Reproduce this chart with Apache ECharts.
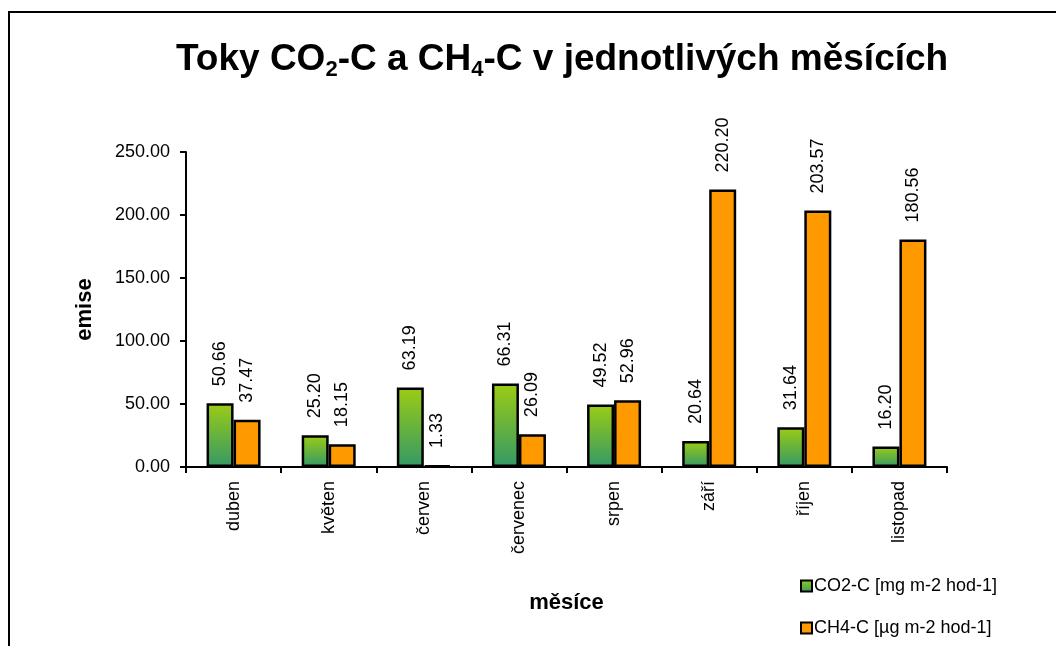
<!DOCTYPE html>
<html>
<head>
<meta charset="utf-8">
<script src="https://cdn.jsdelivr.net/npm/echarts@6/dist/echarts.min.js"></script>
<style>
  html, body { margin: 0; padding: 0; background: #fff; }
  #chart { width: 1056px; height: 646px; }
</style>
</head>
<body>
<div id="chart"></div>
<script>
// Monthly fluxes of CO2-C and CH4-C
const months = ['duben', 'květen', 'červen', 'červenec', 'srpen', 'září', 'říjen', 'listopad'];
const co2 = [50.66, 25.20, 63.19, 66.31, 49.52, 20.64, 31.64, 16.20];
const ch4 = [37.47, 18.15, 1.33, 26.09, 52.96, 220.20, 203.57, 180.56];
const seriesNames = ['CO2-C [mg m-2 hod-1]', 'CH4-C [µg m-2 hod-1]'];

const FONT = '"Liberation Sans", Arial, sans-serif';

const greenFill = new echarts.graphic.LinearGradient(0, 0, 0, 1, [
  { offset: 0, color: '#9ccc14' },
  { offset: 1, color: '#339966' }
]);

const valueLabel = {
  show: true,
  position: 'top',
  rotate: 90,
  align: 'left',
  verticalAlign: 'middle',
  distance: 17,
  fontFamily: FONT,
  fontSize: 18,
  color: '#000',
  formatter: p => p.value.toFixed(2)
};

const chart = echarts.init(document.getElementById('chart'), null, { renderer: 'canvas' });

chart.setOption({
  animation: false,
  backgroundColor: '#fff',
  textStyle: { fontFamily: FONT },
  title: {
    text: '{t|Toky CO}{s|2}{t|-C a CH}{s|4}{t|-C v jednotlivých měsících}',
    left: 171,
    top: 34,
    textStyle: {
      rich: {
        t: { fontFamily: FONT, fontSize: 37, fontWeight: 'bold', color: '#000', lineHeight: 42 },
        s: { fontFamily: FONT, fontSize: 22, fontWeight: 'bold', color: '#000', lineHeight: 20, verticalAlign: 'bottom' }
      }
    }
  },
  legend: {
    orient: 'vertical',
    left: 795,
    top: 572,
    itemWidth: 11,
    itemHeight: 11,
    itemGap: 24,
    icon: 'rect',
    data: seriesNames,
    textStyle: { fontFamily: FONT, fontSize: 18, color: '#000', padding: [0, 0, 0, -3] }
  },
  graphic: [{
    type: 'rect',
    shape: { x: 9, y: 12, width: 1200, height: 800 },
    style: { fill: 'none', stroke: '#000', lineWidth: 2 },
    silent: true,
    z: -1
  }],
  grid: { left: 186, right: 109, top: 152, bottom: 179, containLabel: false },
  xAxis: {
    type: 'category',
    data: months,
    name: 'měsíce',
    nameLocation: 'middle',
    nameGap: 125,
    nameTextStyle: { fontFamily: FONT, fontSize: 22, fontWeight: 'bold', color: '#000' },
    axisLine: { lineStyle: { color: '#000', width: 2 } },
    axisTick: { show: true, alignWithLabel: false, length: 6, lineStyle: { color: '#000', width: 2 } },
    axisLabel: { rotate: 90, margin: 14, fontFamily: FONT, fontSize: 18, color: '#000', interval: 0 }
  },
  yAxis: {
    type: 'value',
    min: 0,
    max: 250,
    interval: 50,
    name: 'emise',
    nameLocation: 'middle',
    nameGap: 90,
    nameRotate: 90,
    nameTextStyle: { fontFamily: FONT, fontSize: 22, fontWeight: 'bold', color: '#000' },
    splitLine: { show: false },
    axisLine: { show: true, lineStyle: { color: '#000', width: 2 } },
    axisTick: { show: true, length: 6, lineStyle: { color: '#000', width: 2 } },
    axisLabel: { margin: 16, fontFamily: FONT, fontSize: 18, color: '#000', formatter: v => v.toFixed(2) }
  },
  series: [
    {
      name: seriesNames[0],
      type: 'bar',
      data: co2,
      barWidth: 27,
      barGap: '0%',
      itemStyle: { color: greenFill, borderColor: '#000', borderWidth: 2.5 },
      label: valueLabel
    },
    {
      name: seriesNames[1],
      type: 'bar',
      data: ch4,
      barWidth: 27,
      barGap: '0%',
      itemStyle: { color: '#ff9900', borderColor: '#000', borderWidth: 2.5 },
      label: valueLabel
    }
  ]
});
</script>
</body>
</html>
